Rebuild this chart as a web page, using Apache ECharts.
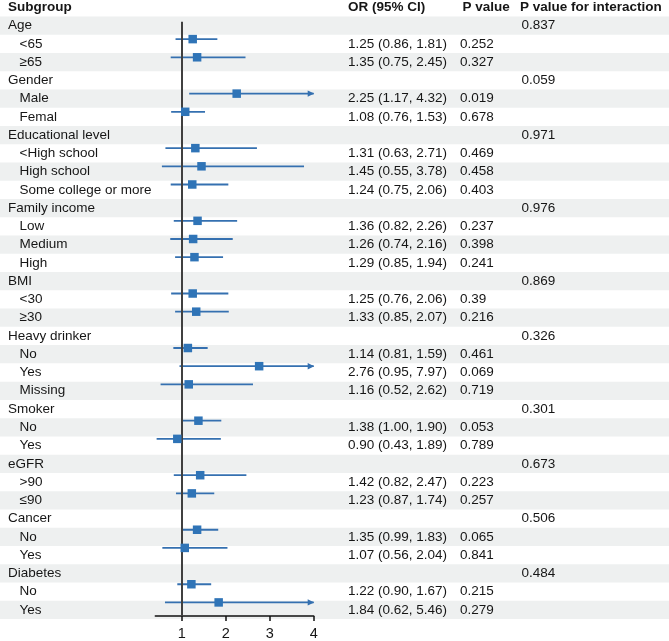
<!DOCTYPE html>
<html>
<head>
<meta charset="utf-8">
<script src="https://cdn.jsdelivr.net/npm/echarts@6/dist/echarts.min.js"></script>
<style>
html, body { margin: 0; padding: 0; background: #fff; }
#forest { width: 669px; height: 641px; }
</style>
</head>
<body>
<div id="forest"></div>
<script>
var headers   = ['Subgroup', 'OR (95% CI)', 'P value', 'P value for interaction'];
var subgroups = ['Age', '<65', '≥65', 'Gender', 'Male', 'Femal', 'Educational level', '<High school', 'High school',
                 'Some college or more', 'Family income', 'Low', 'Medium', 'High', 'BMI', '<30', '≥30', 'Heavy drinker',
                 'No', 'Yes', 'Missing', 'Smoker', 'No', 'Yes', 'eGFR', '>90', '≤90', 'Cancer', 'No', 'Yes',
                 'Diabetes', 'No', 'Yes'];
var oddsRatio = [null, 1.25, 1.35, null, 2.25, 1.08, null, 1.31, 1.45, 1.24, null, 1.36, 1.26, 1.29, null, 1.25, 1.33,
                 null, 1.14, 2.76, 1.16, null, 1.38, 0.90, null, 1.42, 1.23, null, 1.35, 1.07, null, 1.22, 1.84];
var ciLower   = [null, 0.86, 0.75, null, 1.17, 0.76, null, 0.63, 0.55, 0.75, null, 0.82, 0.74, 0.85, null, 0.76, 0.85,
                 null, 0.81, 0.95, 0.52, null, 1.00, 0.43, null, 0.82, 0.87, null, 0.99, 0.56, null, 0.90, 0.62];
var ciUpper   = [null, 1.81, 2.45, null, 4.32, 1.53, null, 2.71, 3.78, 2.06, null, 2.26, 2.16, 1.94, null, 2.06, 2.07,
                 null, 1.59, 7.97, 2.62, null, 1.90, 1.89, null, 2.47, 1.74, null, 1.83, 2.04, null, 1.67, 5.46];
var pValue    = ['', '0.252', '0.327', '', '0.019', '0.678', '', '0.469', '0.458', '0.403', '', '0.237', '0.398', '0.241',
                 '', '0.39', '0.216', '', '0.461', '0.069', '0.719', '', '0.053', '0.789', '', '0.223', '0.257', '',
                 '0.065', '0.841', '', '0.215', '0.279'];
var pInteract = ['0.837', '', '', '0.059', '', '', '0.971', '', '', '', '0.976', '', '', '', '0.869', '', '', '0.326',
                 '', '', '', '0.301', '', '', '0.673', '', '', '0.506', '', '', '0.484', '', ''];
var xTicks    = [1, 2, 3, 4];

var X_MIN = 0.4, X_MAX = 4;
var lineColor = '#3570b0';
var boxColor  = '#2f74b7';
var shade     = '#eef0f0';
var fontFam   = '"Liberation Sans", Arial, sans-serif';
var SHIFT     = -4.5;   // marks sit a little above the row middle

// column x positions (px)
var colX = { group: 8, sub: 19.5, or: 348, p: 460, pHead: 462.5, pint: 521.5, pintHead: 520 };

function txt(x, y, s, bold)
{
    return {
        type: 'text', x: x, y: y, z2: 5,
        style: { text: s, fill: '#161616', fontSize: 13.5, fontFamily: fontFam, fontWeight: bold ? 'bold' : 'normal', verticalAlign: 'middle', align: 'left' }
    };
}

var tableRows = [-1];
for(var r = 0; r < subgroups.length; r++) tableRows.push(r);

function renderRow(params, api)
{
    var i    = api.value(0);
    var yc   = api.coord([0, i])[1];
    var rowH = api.size([0, 1])[1];
    var kids = [];
    if(i < 0)
    {
        kids.push(txt(colX.group, yc, headers[0], true));
        kids.push(txt(colX.or, yc, headers[1], true));
        kids.push(txt(colX.pHead, yc, headers[2], true));
        kids.push(txt(colX.pintHead, yc, headers[3], true));
        return { type: 'group', children: kids };
    }
    if(i % 2 === 0)
    {
        kids.push({ type: 'rect', z2: 0, shape: { x: 0, y: yc - rowH / 2, width: api.getWidth(), height: rowH }, style: { fill: shade } });
    }
    var isGroup = oddsRatio[i] === null;
    kids.push(txt(isGroup ? colX.group : colX.sub, yc, subgroups[i], false));
    if(!isGroup)
    {
        var orText = oddsRatio[i].toFixed(2) + ' (' + ciLower[i].toFixed(2) + ', ' + ciUpper[i].toFixed(2) + ')';
        kids.push(txt(colX.or, yc, orText, false));
        kids.push(txt(colX.p, yc, pValue[i], false));
    }
    if(pInteract[i]) kids.push(txt(colX.pint, yc, pInteract[i], false));
    return { type: 'group', children: kids };
}

var ciData = [], boxData = [];
for(var k = 0; k < subgroups.length; k++)
{
    if(oddsRatio[k] === null) continue;
    ciData.push([ciLower[k], ciUpper[k], k]);
    boxData.push([oddsRatio[k], k]);
}

function renderCI(params, api)
{
    var lo  = api.value(0), hi = api.value(1), row = api.value(2);
    var p1  = api.coord([Math.max(lo, X_MIN), row]);
    var p2  = api.coord([Math.min(hi, X_MAX), row]);
    var y   = p1[1] + SHIFT;
    var kids = [{ type: 'line', shape: { x1: p1[0], y1: y, x2: p2[0], y2: y }, style: { stroke: lineColor, lineWidth: 1.8 } }];
    if(hi > X_MAX)
    {
        kids.push({ type: 'polygon', shape: { points: [[p2[0] + 0.5, y], [p2[0] - 6, y - 3.2], [p2[0] - 6, y + 3.2]] }, style: { fill: lineColor } });
    }
    return { type: 'group', children: kids };
}

var yAxisBase = { type: 'value', inverse: true, min: -1.4, max: 32.5, show: false };

var chart = echarts.init(document.getElementById('forest'));
var option = {
    animation: false,
    grid: [
        { left: 0, right: 0, top: 0, bottom: 22 },
        { left: 155.3, width: 158.4, top: 0, bottom: 22 }
    ],
    xAxis: [
        { gridIndex: 0, type: 'value', min: 0, max: 1, show: false },
        {
            gridIndex: 1,
            type: 'value',
            min: X_MIN,
            max: X_MAX,
            splitLine: { show: false },
            axisLine: { show: true, onZero: false, lineStyle: { color: '#111', width: 1.5 } },
            axisTick: { show: true, length: 5, customValues: xTicks, lineStyle: { color: '#111', width: 1.5 } },
            axisLabel: { customValues: xTicks, margin: 10, fontSize: 14.5, color: '#161616', fontFamily: fontFam }
        }
    ],
    yAxis: [
        Object.assign({ gridIndex: 0 }, yAxisBase),
        Object.assign({ gridIndex: 1 }, yAxisBase)
    ],
    series: [
        {
            type: 'custom',
            xAxisIndex: 0,
            yAxisIndex: 0,
            silent: true,
            z: 0,
            renderItem: renderRow,
            encode: { y: 0 },
            data: tableRows.map(function(v) { return [v]; })
        },
        {
            type: 'custom',
            xAxisIndex: 1,
            yAxisIndex: 1,
            silent: true,
            z: 3,
            renderItem: renderCI,
            encode: { x: [0, 1], y: 2 },
            data: ciData
        },
        {
            type: 'scatter',
            xAxisIndex: 1,
            yAxisIndex: 1,
            silent: true,
            z: 5,
            symbol: 'rect',
            symbolSize: 8.5,
            symbolOffset: [0, SHIFT],
            itemStyle: { color: boxColor, opacity: 1 },
            data: boxData,
            markLine: {
                silent: true,
                symbol: 'none',
                z: 4,
                label: { show: false },
                lineStyle: { color: '#404040', width: 2, type: 'solid' },
                data: [[{ coord: [1, -0.2] }, { coord: [1, 32.5] }]]
            }
        }
    ]
};

option && chart.setOption(option);
</script>
</body>
</html>
